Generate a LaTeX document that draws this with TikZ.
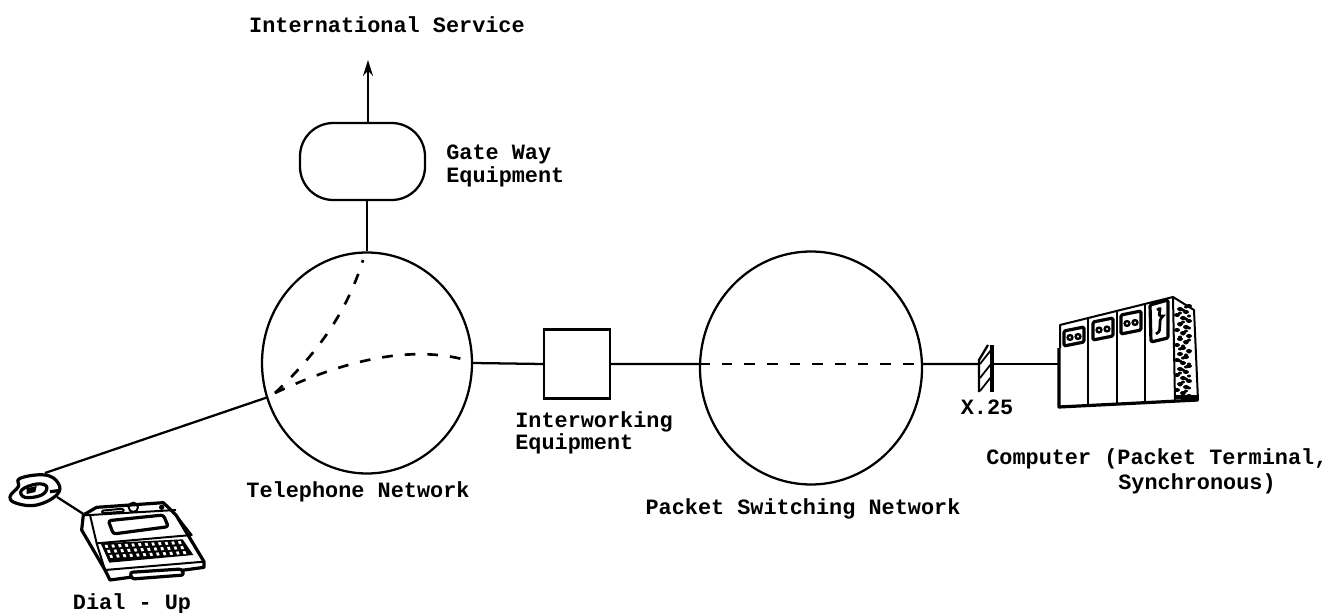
\documentclass[tikz,border=0pt]{standalone}
\usepackage{fontspec}
\setmainfont{Liberation Mono}
\usetikzlibrary{arrows.meta,shapes.geometric,calc}
\tikzset{
  lbl/.style={font=\fontsize{16.4pt}{17pt}\selectfont\bfseries, align=center, inner sep=0pt},
  net/.style={draw, ellipse, line width=1.7pt, inner sep=0pt},
  wire/.style={line width=1.7pt},
  dashline/.style={line width=2pt, dash pattern=on 8pt off 9pt},
  dev/.style={line width=1.5pt, line join=round},
  thick dev/.style={line width=2.4pt, line join=round}
}
\begin{document}
\begin{tikzpicture}[x=0.75pt,y=-0.75pt]
\useasboundingbox (0,0) rectangle (1343,613);
% labels
\node[lbl] (intl) at (387,25) {International Service};
\node[lbl, align=left, anchor=west] (gwl) at (446,166) {Gate Way\\Equipment};
\node[lbl, align=left, anchor=west] (iwl) at (515,433) {Interworking\\Equipment};
\node[lbl] (tell) at (358,492) {Telephone Network};
\node[lbl] (psnl) at (803,509) {Packet Switching Network};
\node[lbl] (x25) at (987,407) {X.25};
\node[lbl, anchor=west] (compl) at (986,459) {Computer (Packet Terminal,};
\node[lbl] (compm) at (1197,484) {Synchronous)};
\node[lbl] (dial) at (132,604) {Dial - Up};
% main shapes
\node[draw, line width=1.7pt, rounded corners=25pt, minimum width=93.75pt, minimum height=57.75pt, inner sep=0pt] (gw) at (362.5,161.5) {};
\node[net, minimum width=157.5pt, minimum height=165.75pt] (tel) at (367,363) {};
\node[draw, line width=1.7pt, minimum width=49.5pt, minimum height=51.75pt, inner sep=0pt] (iw) at (577,364) {};
\node[net, minimum width=166.5pt, minimum height=174.75pt] (psn) at (811,368) {};
\node[minimum width=11.25pt, minimum height=35pt, inner sep=0pt] (bar) at (986,368) {};
\coordinate (intltip) at (368,60);
\coordinate (gwtop) at (368,123);
\coordinate (comp) at (1060,364);
\coordinate (fan) at (275,393);
\coordinate (fanA) at (363,260);
\coordinate (fanB) at (466,360);
\coordinate (phoneA) at (45,473);
\coordinate (phoneB) at (57,497);
\coordinate (typeA) at (85,515);
% connectors
\draw[wire, -{Stealth[length=12pt,width=7.5pt,inset=4pt]}] (gwtop) -- (intltip);
\draw[wire] (gw.south -| tel.north) -- (tel.north);
\draw[wire] (tel.east) -- (iw.west);
\draw[wire] (iw.east) -- (psn.178);
\draw[wire] (psn.2) -- (bar.west |- comp);
\draw[wire] (bar.east |- comp) -- (comp);
\draw[wire] (phoneA) -- (tel.199);
\draw[wire] (phoneB) -- (typeA);
% dashed lines in the networks
\draw[dashline] (fan) .. controls (312,358) and (345,318) .. (fanA);
\draw[dashline] (fan) .. controls (345,360) and (410,345) .. (fanB);
\draw[dashline] (psn.178) -- (psn.2);
% X.25 barrier
\draw[line width=1.7pt] (979,392) -- (979,360) -- (988,345);
\draw[line width=2.6pt] (992,345) -- (992,392);
\foreach \yy in {364,378,391}{\draw[line width=1.3pt] (980,\yy) -- (991,\yy-14);}
% computer
\begin{scope}
\fill[white] (1060,325) -- (1173,297) -- (1194,310) -- (1198,400) -- (1059,407) -- cycle;
\draw[dev] (1060,348) -- (1060,325) -- (1173,297) -- (1194,310) -- (1198,400) -- (1175,401);
\draw[thick dev] (1059,348) -- (1059,407) -- (1198,400);
\draw[dev] (1088,318) -- (1088,404);
\draw[dev] (1117,311) -- (1117,403);
\draw[dev] (1145,304) -- (1145,402);
\draw[dev] (1173,297) -- (1175,401);
\foreach \xa/\ya/\xb/\yb in {1064/331/1084/346, 1093/322/1113/340, 1121/315/1141/334}{
  \draw[thick dev, rounded corners=1pt] (\xa,\ya) -- (\xb,\ya-4) -- (\xb,\yb-4) -- (\xa,\yb) -- cycle;
  \draw[line width=1.8pt] ({\xa+6},{(\ya+\yb)/2-1}) circle (2.4);
  \draw[line width=1.8pt] ({\xa+14},{(\ya+\yb)/2-2}) circle (2.4);
}
\draw[thick dev, rounded corners=1pt] (1150,305) -- (1168,300) -- (1168,338) -- (1151,342) -- cycle;
\draw[line width=2pt] (1157,310) .. controls (1165,304) and (1154,318) .. (1163,316) .. controls (1156,322) and (1164,330) .. (1156,334);
\foreach \yy in {306,309,...,398}{
  \pgfmathsetmacro{\xx}{1177+mod(\yy*7,15)}
  \pgfmathsetmacro{\xz}{1180+mod(\yy*11,12)}
  \fill (\xx,\yy) ellipse (3 and 2);
  \fill (\xz,\yy+1) ellipse (2 and 1.5);
}
\draw[thick dev] (1175,397) -- (1197,397);
\end{scope}
% telephone and terminal (drawn in crop units)
\begin{scope}[shift={(0,380)}, x=0.25pt, y=-0.25pt]
  \draw[thick dev, fill=white] plot[smooth cycle, tension=0.7] coordinates {(60,295) (135,285) (175,310) (170,345) (110,375) (50,370) (30,350) (55,320)};
  \draw[thick dev] plot[smooth cycle, tension=0.7] coordinates {(65,330) (110,312) (140,320) (125,345) (75,352)};
  \fill (80,325) -- (110,318) -- (106,336) -- (80,342) -- cycle;
  \draw[thick dev] (150,335) -- (175,332);
  % terminal
  \draw[thick dev, fill=white] (250,405) -- (290,382) -- (490,368) -- (528,405) -- (612,545) -- (612,562) -- (330,600) -- (315,570) -- (245,450) -- cycle;
  \draw[dev] (270,405) -- (290,490) -- (315,570) -- (612,545);
  \draw[dev] (250,405) -- (270,405) -- (528,390);
  \draw[dev] (290,490) -- (575,465) -- (528,405);
  \draw[thick dev, rounded corners=2pt] (325,422) -- (490,405) -- (505,440) -- (340,462) -- cycle;
  \draw[dev, rounded corners=1pt] (305,392) -- (370,386) -- (372,395) -- (307,400) -- cycle;
  \draw[dev] (400,382) circle (14);
  \fill (485,382) circle (8);
  % keyboard
  \fill (302,490) -- (548,478) -- (580,525) -- (328,548) -- cycle;
  \foreach \rr in {0,1,2}{
    \foreach \cc in {0,...,11}{
      \fill[white] ($(314,495)+(\cc*20,-\cc*1)+(\rr*7,\rr*15)$) -- +(8,-1) -- +(11,8) -- +(3,9) -- cycle;
    }
  }
  \draw[thick dev, fill=white, rounded corners=2pt] (390,577) -- (545,567) -- (552,585) -- (396,597) -- cycle;
\end{scope}
\end{tikzpicture}
\end{document}
